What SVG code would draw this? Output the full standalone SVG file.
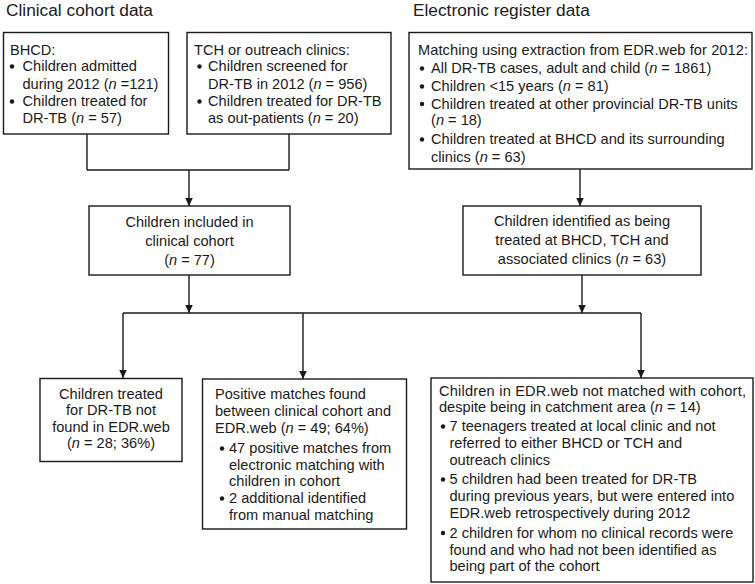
<svg xmlns="http://www.w3.org/2000/svg" width="755" height="584" viewBox="0 0 755 584">
<defs>
<marker id="ah" markerUnits="userSpaceOnUse" markerWidth="9" markerHeight="9" refX="8.5" refY="4.5" orient="auto">
<path d="M0,0.5 L8.5,4.5 L0,8.5 z" fill="#1a1a1a"/>
</marker>
<style>
text{font-family:"Liberation Sans",Arial,sans-serif;font-size:14.6px;fill:#1a1a1a}
.title{font-size:17.3px}
.c{text-anchor:middle}
.box{fill:#fff;stroke:#1a1a1a;stroke-width:1.4}
.ln{fill:none;stroke:#1a1a1a;stroke-width:1.4}
.b{fill:#1a1a1a}
.i{font-style:italic}
</style>
</defs>
<rect width="755" height="584" fill="#fff"/>
<text class="title" x="6" y="16">Clinical cohort data</text>
<text class="title" x="413" y="16">Electronic register data</text>

<g id="connectors">
<path class="ln" d="M87 134 V170 M289 134 V170 M87 170 H289"/>
<path class="ln" d="M189 170 V206" marker-end="url(#ah)"/>
<path class="ln" d="M580 169 V206" marker-end="url(#ah)"/>
<path class="ln" d="M189 275 V313" marker-end="url(#ah)"/>
<path class="ln" d="M582 275 V313" marker-end="url(#ah)"/>
<path class="ln" d="M123 313 H641"/>
<path class="ln" d="M123 313 V378" marker-end="url(#ah)"/>
<path class="ln" d="M303 313 V379" marker-end="url(#ah)"/>
<path class="ln" d="M641 313 V378" marker-end="url(#ah)"/>
</g>

<g id="bhcd">
<rect class="box" x="3.5" y="32.5" width="165" height="101.5"/>
<text x="10" y="55">BHCD:</text>
<circle class="b" cx="12" cy="66.5" r="2.2"/>
<text x="22.5" y="71">Children admitted</text>
<text x="22.5" y="88.5">during 2012 (<tspan class="i">n</tspan> =121)</text>
<circle class="b" cx="12" cy="101.5" r="2.2"/>
<text x="22.5" y="106">Children treated for</text>
<text x="22.5" y="123">DR-TB (<tspan class="i">n</tspan> = 57)</text>
</g>

<g id="tch">
<rect class="box" x="187" y="32.5" width="204" height="101.5"/>
<text x="194" y="55">TCH or outreach clinics:</text>
<circle class="b" cx="199.5" cy="66.5" r="2.2"/>
<text x="208" y="71">Children screened for</text>
<text x="208" y="88.5">DR-TB in 2012 (<tspan class="i">n</tspan> = 956)</text>
<circle class="b" cx="199.5" cy="101.5" r="2.2"/>
<text x="208" y="106">Children treated for DR-TB</text>
<text x="208" y="123">as out-patients (<tspan class="i">n</tspan> = 20)</text>
</g>

<g id="edr">
<rect class="box" x="409" y="32.5" width="343" height="136.5"/>
<text x="418" y="54.5" textLength="330" lengthAdjust="spacing">Matching using extraction from EDR.web for 2012:</text>
<circle class="b" cx="422" cy="68.5" r="2.2"/>
<text x="431" y="73">All DR-TB cases, adult and child (<tspan class="i">n</tspan> = 1861)</text>
<circle class="b" cx="422" cy="86.5" r="2.2"/>
<text x="431" y="91">Children &lt;15 years (<tspan class="i">n</tspan> = 81)</text>
<circle class="b" cx="422" cy="104" r="2.2"/>
<text x="431" y="108.5">Children treated at other provincial DR-TB units</text>
<text x="431" y="125">(<tspan class="i">n</tspan> = 18)</text>
<circle class="b" cx="422" cy="139.5" r="2.2"/>
<text x="431" y="144">Children treated at BHCD and its surrounding</text>
<text x="431" y="161.5">clinics (<tspan class="i">n</tspan> = 63)</text>
</g>

<g id="cohort">
<rect class="box" x="89" y="206" width="201" height="69"/>
<text class="c" x="189.5" y="227">Children included in</text>
<text class="c" x="189.5" y="246">clinical cohort</text>
<text class="c" x="189.5" y="265">(<tspan class="i">n</tspan> = 77)</text>
</g>

<g id="identified">
<rect class="box" x="463" y="206" width="238" height="69"/>
<text class="c" x="582" y="226">Children identified as being</text>
<text class="c" x="582" y="245">treated at BHCD, TCH and</text>
<text class="c" x="582" y="264">associated clinics (<tspan class="i">n</tspan> = 63)</text>
</g>

<g id="notfound">
<rect class="box" x="40" y="378.5" width="142" height="83"/>
<text class="c" x="111" y="399">Children treated</text>
<text class="c" x="111" y="415">for DR-TB not</text>
<text class="c" x="111" y="431.5">found in EDR.web</text>
<text class="c" x="111" y="448">(<tspan class="i">n</tspan> = 28; 36%)</text>
</g>

<g id="matches">
<rect class="box" x="202.5" y="379" width="204" height="150"/>
<text x="215" y="398.5">Positive matches found</text>
<text x="215" y="416">between clinical cohort and</text>
<text x="215" y="433">EDR.web (<tspan class="i">n</tspan> = 49; 64%)</text>
<circle class="b" cx="222" cy="448.5" r="2.2"/>
<text x="229" y="453">47 positive matches from</text>
<text x="229" y="469.5">electronic matching with</text>
<text x="229" y="486">children in cohort</text>
<circle class="b" cx="222" cy="498.5" r="2.2"/>
<text x="229" y="503">2 additional identified</text>
<text x="229" y="520">from manual matching</text>
</g>

<g id="notmatched">
<rect class="box" x="431" y="378" width="322" height="204"/>
<text x="439" y="395.5" textLength="307" lengthAdjust="spacing">Children in EDR.web not matched with cohort,</text>
<text x="439" y="412">despite being in catchment area (<tspan class="i">n</tspan> = 14)</text>
<circle class="b" cx="443" cy="426.5" r="2.2"/>
<text x="449.5" y="431">7 teenagers treated at local clinic and not</text>
<text x="449.5" y="448">referred to either BHCD or TCH and</text>
<text x="449.5" y="465">outreach clinics</text>
<circle class="b" cx="443" cy="479.5" r="2.2"/>
<text x="449.5" y="484">5 children had been treated for DR-TB</text>
<text x="449.5" y="501">during previous years, but were entered into</text>
<text x="449.5" y="518">EDR.web retrospectively during 2012</text>
<circle class="b" cx="443" cy="533" r="2.2"/>
<text x="449.5" y="537.5">2 children for whom no clinical records were</text>
<text x="449.5" y="554.5">found and who had not been identified as</text>
<text x="449.5" y="571">being part of the cohort</text>
</g>
</svg>
